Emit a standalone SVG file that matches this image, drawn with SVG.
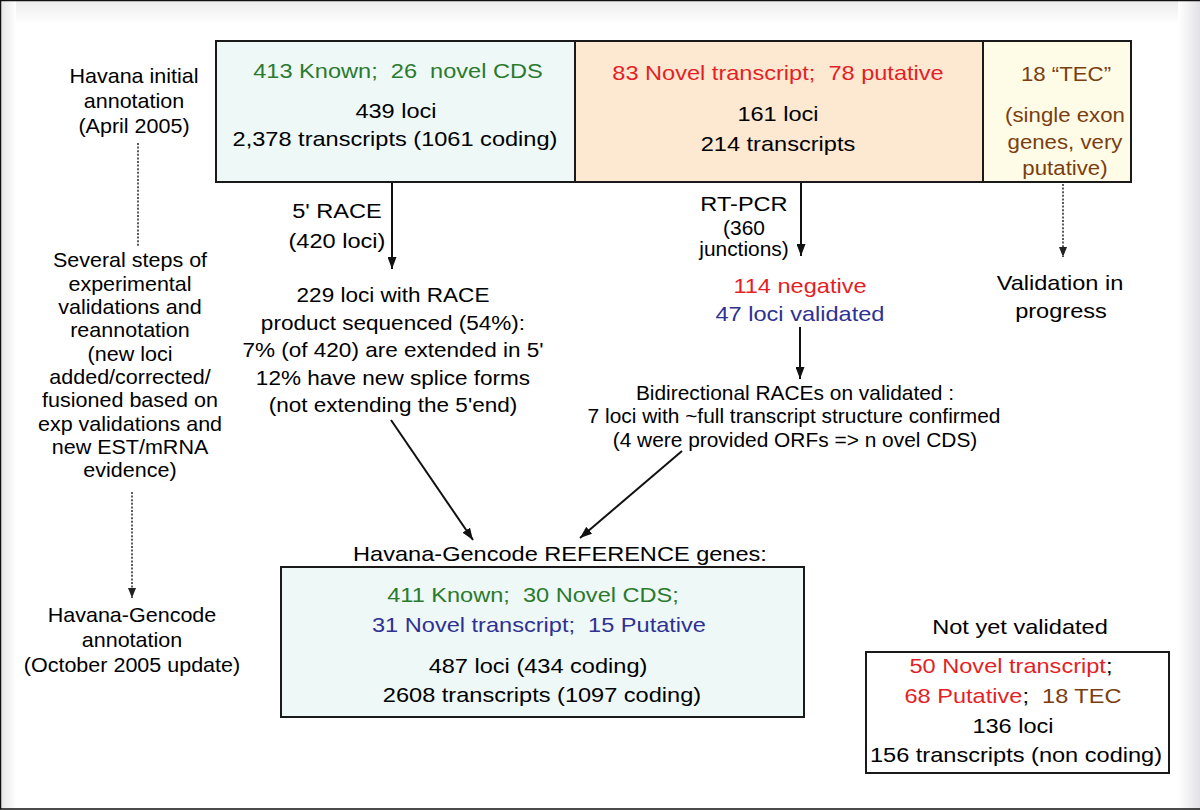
<svg xmlns="http://www.w3.org/2000/svg" width="1200" height="810" viewBox="0 0 1200 810">
<style>
text { font-family: "Liberation Sans", Arial, Helvetica, sans-serif; font-size: 20.5px; text-anchor: middle; fill: #000; transform-box: fill-box; transform-origin: center; }
.a { transform: scaleX(1.15); }
.b { transform: scaleX(1.05); }
.c { transform: scaleX(1.10); }
.d { transform: scaleX(1.02); }
.e { transform: scaleX(1.085); }
.g { fill: #2b7a2e; }
.r { fill: #e41f26; }
.br { fill: #7a3e10; }
.bl { fill: #2e3192; }
.box { stroke: #1a1a1a; stroke-width: 2; }
.ln { stroke: #111; stroke-width: 2; fill: none; }
.dot { stroke: #333; stroke-width: 1.6; stroke-dasharray: 2 1.6; fill: none; }
</style>
<defs>
<marker id="ah" markerUnits="userSpaceOnUse" markerWidth="12" markerHeight="9" refX="12" refY="4.5" orient="auto">
<path d="M0,0 L12,4.5 L0,9 z" fill="#111"/>
</marker>
<marker id="ahs" markerUnits="userSpaceOnUse" markerWidth="10" markerHeight="8" refX="10" refY="4" orient="auto">
<path d="M0,0 L10,4 L0,8 z" fill="#222"/>
</marker>
<linearGradient id="gl" x1="0" y1="0" x2="1" y2="0"><stop offset="0" stop-color="#e4e4e4"/><stop offset="1" stop-color="#ffffff"/></linearGradient>
<linearGradient id="gr" x1="0" y1="0" x2="1" y2="0"><stop offset="0" stop-color="#ffffff"/><stop offset="1" stop-color="#e2e2e6"/></linearGradient>
<linearGradient id="gt" x1="0" y1="0" x2="0" y2="1"><stop offset="0" stop-color="#ececec"/><stop offset="1" stop-color="#ffffff"/></linearGradient>
</defs>

<g id="frame">
<rect x="0" y="0" width="1200" height="810" fill="#ffffff"/>
<rect x="0" y="0" width="1200" height="24" fill="url(#gt)"/>
<rect x="0" y="0" width="16" height="810" fill="url(#gl)"/>
<rect x="1178" y="0" width="22" height="810" fill="url(#gr)"/>
<path d="M0.5,809 V0.5 H1200 M0,809 H1200" stroke="#111" stroke-width="1.5" fill="none"/>
</g>

<g id="left-labels">
<g id="initial-label">
<text class="b" x="134" y="83">Havana initial</text>
<text class="b" x="134" y="108">annotation</text>
<text class="b" x="134" y="133">(April 2005)</text>
</g>
<g id="steps-label">
<text class="b" x="130" y="267">Several steps of</text>
<text class="b" x="130" y="291">experimental</text>
<text class="b" x="130" y="314">validations and</text>
<text class="b" x="130" y="337">reannotation</text>
<text class="b" x="130" y="361">(new loci</text>
<text class="b" x="130" y="384">added/corrected/</text>
<text class="b" x="130" y="407">fusioned based on</text>
<text class="b" x="130" y="431">exp validations and</text>
<text class="b" x="130" y="454">new EST/mRNA</text>
<text class="b" x="130" y="477">evidence)</text>
</g>
<g id="gencode-label">
<text class="b" x="132" y="622">Havana-Gencode</text>
<text class="b" x="132" y="647">annotation</text>
<text class="b" x="132" y="672">(October 2005 update)</text>
</g>
</g>

<g id="initial-box">
<g id="coding-section">
<rect x="216" y="41" width="359" height="141" fill="#eef8f7"/>
<text class="a g" x="398" y="78">413 Known;&#160; 26&#160; novel CDS</text>
<text class="a" x="396" y="118">439 loci</text>
<text class="a" x="395" y="146">2,378 transcripts (1061 coding)</text>
</g>
<g id="noncoding-section">
<rect x="575" y="41" width="408" height="141" fill="#fde8d2"/>
<text class="a r" x="778" y="80">83 Novel transcript;&#160; 78 putative</text>
<text class="a" x="778" y="121">161 loci</text>
<text class="a" x="778" y="151">214 transcripts</text>
</g>
<g id="tec-section">
<rect x="983" y="41" width="148" height="141" fill="#fefbe6"/>
<text class="e br" x="1066" y="81">18 “TEC”</text>
<text class="e br" x="1065" y="122">(single exon</text>
<text class="e br" x="1065" y="149">genes, very</text>
<text class="e br" x="1065" y="175">putative)</text>
</g>
<rect class="box" x="216" y="41" width="915" height="141" fill="none"/>
<path class="box" d="M575,41 V182 M983,41 V182" fill="none"/>
</g>

<g id="connectors">
<line class="dot" x1="138" y1="143" x2="138" y2="247"/>
<line class="dot" x1="132" y1="492" x2="132" y2="598" marker-end="url(#ahs)"/>
<line class="ln" x1="392" y1="183" x2="392" y2="269" marker-end="url(#ah)"/>
<line class="ln" x1="391" y1="420" x2="473" y2="540" marker-end="url(#ah)"/>
<line class="ln" x1="801" y1="183" x2="801" y2="256" marker-end="url(#ah)"/>
<line class="ln" x1="800" y1="327" x2="800" y2="379" marker-end="url(#ah)"/>
<line class="ln" x1="682" y1="451" x2="580" y2="538" marker-end="url(#ah)"/>
<line class="dot" x1="1063" y1="184" x2="1063" y2="257" marker-end="url(#ahs)"/>
</g>

<g id="race-label">
<text class="a" x="337" y="218">5' RACE</text>
<text class="a" x="337" y="248">(420 loci)</text>
</g>

<g id="race-result">
<text class="c" x="393" y="302">229 loci with RACE</text>
<text class="c" x="393" y="330">product sequenced (54%):</text>
<text class="c" x="393" y="357">7% (of 420) are extended in 5'</text>
<text class="c" x="393" y="385">12% have new splice forms</text>
<text class="c" x="393" y="412">(not extending the 5'end)</text>
</g>

<g id="rtpcr-label">
<text class="a" x="744" y="211">RT-PCR</text>
<text class="d" x="744" y="235">(360</text>
<text class="d" x="744" y="256">junctions)</text>
</g>

<g id="rtpcr-result">
<text class="a r" x="800" y="293">114 negative</text>
<text class="a bl" x="800" y="321">47 loci validated</text>
</g>

<g id="bidirectional">
<text class="d" x="795" y="400">Bidirectional RACEs on validated :</text>
<text class="d" x="794" y="423">7 loci with ~full transcript structure confirmed</text>
<text class="d" x="795" y="447">(4 were provided ORFs =&gt; n ovel CDS)</text>
</g>

<g id="validation-progress">
<text class="a" x="1060" y="290">Validation in</text>
<text class="a" x="1061" y="318">progress</text>
</g>

<g id="reference-genes">
<text class="a" x="560" y="561">Havana-Gencode REFERENCE genes:</text>
<rect class="box" x="281" y="567" width="523" height="150" fill="#eef8f7"/>
<text class="a g" x="533" y="602">411 Known;&#160; 30 Novel CDS;</text>
<text class="a bl" x="539" y="632">31 Novel transcript;&#160; 15 Putative</text>
<text class="a" x="538" y="673">487 loci (434 coding)</text>
<text class="a" x="542" y="702">2608 transcripts (1097 coding)</text>
</g>

<g id="not-validated">
<text class="a" x="1020" y="634">Not yet validated</text>
<rect class="box" x="866" y="652" width="303" height="121" fill="#ffffff"/>
<text class="a" x="1011" y="673"><tspan class="r">50 Novel transcript</tspan>;</text>
<text class="a" x="1013" y="703"><tspan class="r">68 Putative</tspan>;&#160; <tspan class="br">18 TEC</tspan></text>
<text class="a" x="1013" y="733">136 loci</text>
<text class="a" x="1016" y="762">156 transcripts (non coding)</text>
</g>
</svg>
